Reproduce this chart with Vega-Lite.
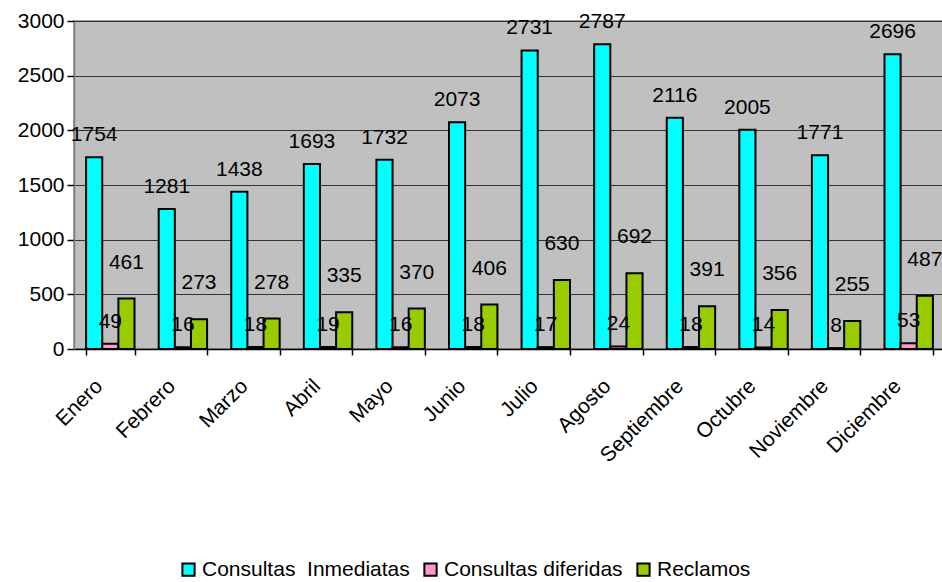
{
  "$schema": "https://vega.github.io/schema/vega-lite/v6.json",
  "width": 871,
  "height": 328,
  "autosize": "none",
  "padding": {"left": 74, "top": 21, "right": 0, "bottom": 233},
  "background": "white",
  "config": {
    "font": "Liberation Sans",
    "view": {"fill": "#C0C0C0", "stroke": "#808080", "strokeWidth": 1.5}
  },
  "data": {
    "values": [
      {"mes": "Enero", "serie": "Consultas  Inmediatas", "valor": 1754},
      {"mes": "Enero", "serie": "Consultas diferidas", "valor": 49},
      {"mes": "Enero", "serie": "Reclamos", "valor": 461},
      {"mes": "Febrero", "serie": "Consultas  Inmediatas", "valor": 1281},
      {"mes": "Febrero", "serie": "Consultas diferidas", "valor": 16},
      {"mes": "Febrero", "serie": "Reclamos", "valor": 273},
      {"mes": "Marzo", "serie": "Consultas  Inmediatas", "valor": 1438},
      {"mes": "Marzo", "serie": "Consultas diferidas", "valor": 18},
      {"mes": "Marzo", "serie": "Reclamos", "valor": 278},
      {"mes": "Abril", "serie": "Consultas  Inmediatas", "valor": 1693},
      {"mes": "Abril", "serie": "Consultas diferidas", "valor": 19},
      {"mes": "Abril", "serie": "Reclamos", "valor": 335},
      {"mes": "Mayo", "serie": "Consultas  Inmediatas", "valor": 1732},
      {"mes": "Mayo", "serie": "Consultas diferidas", "valor": 16},
      {"mes": "Mayo", "serie": "Reclamos", "valor": 370},
      {"mes": "Junio", "serie": "Consultas  Inmediatas", "valor": 2073},
      {"mes": "Junio", "serie": "Consultas diferidas", "valor": 18},
      {"mes": "Junio", "serie": "Reclamos", "valor": 406},
      {"mes": "Julio", "serie": "Consultas  Inmediatas", "valor": 2731},
      {"mes": "Julio", "serie": "Consultas diferidas", "valor": 17},
      {"mes": "Julio", "serie": "Reclamos", "valor": 630},
      {"mes": "Agosto", "serie": "Consultas  Inmediatas", "valor": 2787},
      {"mes": "Agosto", "serie": "Consultas diferidas", "valor": 24},
      {"mes": "Agosto", "serie": "Reclamos", "valor": 692},
      {"mes": "Septiembre", "serie": "Consultas  Inmediatas", "valor": 2116},
      {"mes": "Septiembre", "serie": "Consultas diferidas", "valor": 18},
      {"mes": "Septiembre", "serie": "Reclamos", "valor": 391},
      {"mes": "Octubre", "serie": "Consultas  Inmediatas", "valor": 2005},
      {"mes": "Octubre", "serie": "Consultas diferidas", "valor": 14},
      {"mes": "Octubre", "serie": "Reclamos", "valor": 356},
      {"mes": "Noviembre", "serie": "Consultas  Inmediatas", "valor": 1771},
      {"mes": "Noviembre", "serie": "Consultas diferidas", "valor": 8},
      {"mes": "Noviembre", "serie": "Reclamos", "valor": 255},
      {"mes": "Diciembre", "serie": "Consultas  Inmediatas", "valor": 2696},
      {"mes": "Diciembre", "serie": "Consultas diferidas", "valor": 53},
      {"mes": "Diciembre", "serie": "Reclamos", "valor": 487}
    ]
  },
  "encoding": {
    "x": {
      "field": "mes", "type": "nominal", "title": null,
      "scale": {
        "domain": ["Enero","Febrero","Marzo","Abril","Mayo","Junio","Julio","Agosto","Septiembre","Octubre","Noviembre","Diciembre"],
        "paddingInner": 0.333, "paddingOuter": 0.1667
      },
      "axis": {
        "labelAngle": -45, "labelFontSize": 21, "labelColor": "black",
        "tickBand": "extent", "tickSize": 6, "tickColor": "black", "tickWidth": 1.5,
        "domainColor": "black", "domainWidth": 1.5, "labelPadding": 20, "labelOffset": -19, "grid": false
      }
    },
    "xOffset": {
      "field": "serie", "type": "nominal",
      "scale": {"domain": ["Consultas  Inmediatas", "Consultas diferidas", "Reclamos"], "paddingInner": 0, "paddingOuter": 0}
    },
    "y": {
      "field": "valor", "type": "quantitative", "title": null,
      "scale": {"domain": [0, 3000], "nice": false},
      "axis": {
        "values": [0, 500, 1000, 1500, 2000, 2500, 3000], "format": "d",
        "labelFontSize": 21, "labelColor": "black",
        "tickSize": 7, "tickColor": "black", "tickWidth": 1.5, "labelPadding": 3,
        "domainColor": "#808080", "domainWidth": 1.5,
        "grid": true, "gridColor": "#333333", "gridWidth": 1.2
      }
    }
  },
  "layer": [
    {
      "mark": {"type": "bar", "stroke": "black", "strokeWidth": 2},
      "encoding": {
        "color": {
          "field": "serie", "type": "nominal", "title": null,
          "scale": {"domain": ["Consultas  Inmediatas", "Consultas diferidas", "Reclamos"], "range": ["#00FFFF", "#FF99CC", "#99CC00"]},
          "legend": {
            "orient": "none", "legendX": 104, "legendY": 538,
            "direction": "horizontal", "columns": 3,
            "symbolType": "square", "symbolSize": 150, "symbolStrokeColor": "black", "symbolStrokeWidth": 2,
            "labelFontSize": 21, "labelColor": "black", "labelLimit": 400, "labelOffset": 3,
            "labelExpr": "replace(datum.label, '  ', ' \u00a0')",
            "columnPadding": 10
          }
        }
      }
    },
    {
      "transform": [{"filter": "datum.serie !== 'Reclamos'"}],
      "mark": {"type": "text", "baseline": "middle", "dy": -22, "fontSize": 21, "color": "black"},
      "encoding": {"text": {"field": "valor", "type": "quantitative"}}
    },
    {
      "transform": [{"filter": "datum.serie === 'Reclamos'"}],
      "mark": {"type": "text", "baseline": "middle", "dy": -36, "fontSize": 21, "color": "black"},
      "encoding": {"text": {"field": "valor", "type": "quantitative"}}
    }
  ]
}
